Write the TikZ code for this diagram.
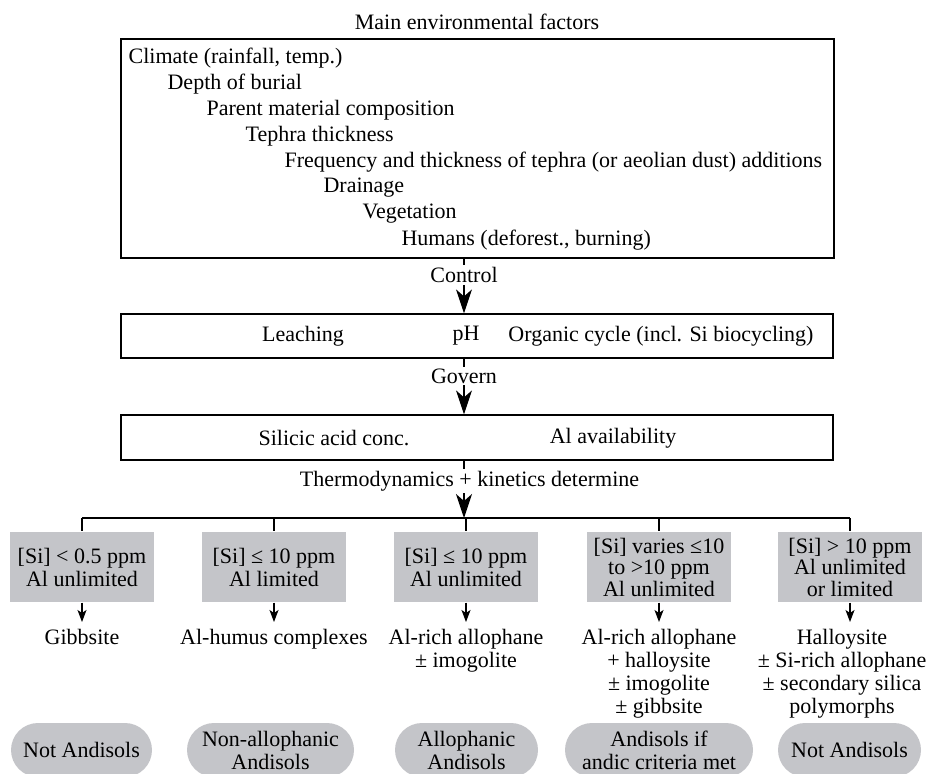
\documentclass[tikz,border=0pt]{standalone}
\usepackage{fontspec}
\setmainfont{Liberation Serif}
\usetikzlibrary{arrows.meta}
\definecolor{boxgray}{RGB}{196,197,201}
\tikzset{
	every node/.style={font=\fontsize{22}{23}\selectfont},
	framebox/.style={draw, line width=1.2pt, inner sep=0pt},
	factor/.style={anchor=west, inner sep=0pt},
	link/.style={inner sep=1.5pt},
	graybox/.style={fill=boxgray, minimum width=144pt, minimum height=70pt, inner sep=0pt, align=center},
	result/.style={anchor=north, inner sep=0pt, align=center},
	pill/.style={fill=boxgray, rounded corners=27pt, minimum height=54pt, inner sep=0pt, align=center},
	bigarrow/.style={line width=1.2pt, -{Stealth[length=24pt, width=16pt, inset=7pt]}},
	smallarrow/.style={line width=1.2pt, -{Stealth[length=12pt, width=9pt, inset=3pt]}, shorten >=7pt}
}

\begin{document}
\begin{tikzpicture}[x=1pt, y=-1pt, line width=1.2pt]
		%%%%% START %%%%%
		\useasboundingbox (0, 0) rectangle (927, 774);
		
		\node (title) at (477, 22) {Main environmental factors};
		\node[framebox, minimum width=713pt, minimum height=219pt] (env) at (477.5, 148.5) {};
		\foreach \fac [count=\i] in {{Climate (rainfall, temp.)}, Depth of burial, Parent material composition, Tephra thickness, Frequency and thickness of tephra (or aeolian dust) additions, Drainage, Vegetation, {Humans (deforest., burning)}}
			\node[factor] (fac\i) at ({128+39*(\i-1)}, {58+26*(\i-1)}) {\fac};
		
		\node[link] (ctl) at (464, 275) {Control};
		
		\node[framebox, minimum width=712pt, minimum height=44pt] (proc) at (477, 336) {};
		\node (leach) at (303, 336) {Leaching};
		\node (ph) at (466, 336) {pH};
		\node (org) at (661, 336) {Organic cycle (incl. Si biocycling)};
		
		\node[link] (gov) at (464, 376) {Govern};
		
		\node[framebox, minimum width=712pt, minimum height=45pt] (avail) at (477, 437.5) {};
		\node (si) at (334, 438) {Silicic acid conc.};
		\node (al) at (613, 438) {Al availability};
		
		\node[link] (thermo) at (469.5, 481) {Thermodynamics + kinetics determine};
		\coordinate (split) at (464, 518);
		
		\draw (ctl |- env.south) -- (ctl.north);
		\draw[bigarrow] (ctl.south) -- (ctl |- proc.north);
		\draw (gov |- proc.south) -- (gov.north);
		\draw[bigarrow] (gov.south) -- (gov |- avail.north);
		\draw (split |- avail.south) -- (split |- thermo.north);
		\draw[bigarrow] (split |- thermo.south) -- (split);
		
		% conditions
		\node[graybox] (c1) at (82, 567) {[Si] < 0.5 ppm\\Al unlimited};
		\node[graybox] (c2) at (274, 567) {[Si] ≤ 10 ppm\\Al limited};
		\node[graybox] (c3) at (466, 567) {[Si] ≤ 10 ppm\\Al unlimited};
		\node[graybox, font=\fontsize{22}{21.5}\selectfont] (c4) at (659, 567) {[Si] varies ≤10\\to >10 ppm\\Al unlimited};
		\node[graybox, font=\fontsize{22}{21.5}\selectfont] (c5) at (850, 567) {[Si] > 10 ppm\\Al unlimited\\or limited};
		
		\draw (c1.north |- split) -- (c5.north |- split);
		\foreach \i in {1,...,5}
			\draw (c\i.north |- split) -- (c\i.north);
		
		% products
		\node[result] (r1) at (82, 629) {Gibbsite};
		\node[result] (r2) at (274, 629) {Al-humus complexes};
		\node[result] (r3) at (466, 629) {Al-rich allophane\\± imogolite};
		\node[result] (r4) at (659, 629) {Al-rich allophane\\+ halloysite\\± imogolite\\± gibbsite};
		\node[result] (r5) at (842, 629) {Halloysite\\± Si-rich allophane\\± secondary silica\\polymorphs};
		
		\foreach \i in {1,...,5}
			\draw[smallarrow] (c\i.south) -- (c\i.south |- r\i.north);
		
		% soil classes
		\node[pill, minimum width=141pt] (p1) at (81.5, 750) {Not Andisols};
		\node[pill, minimum width=167pt] (p2) at (270.5, 750) {Non-allophanic\\Andisols};
		\node[pill, minimum width=143pt] (p3) at (466.5, 750) {Allophanic\\Andisols};
		\node[pill, minimum width=188pt] (p4) at (659, 750) {Andisols if\\andic criteria met};
		\node[pill, minimum width=143pt] (p5) at (849.5, 750) {Not Andisols};
		
		%%%%% END %%%%%
	\end{tikzpicture}
\end{document}
